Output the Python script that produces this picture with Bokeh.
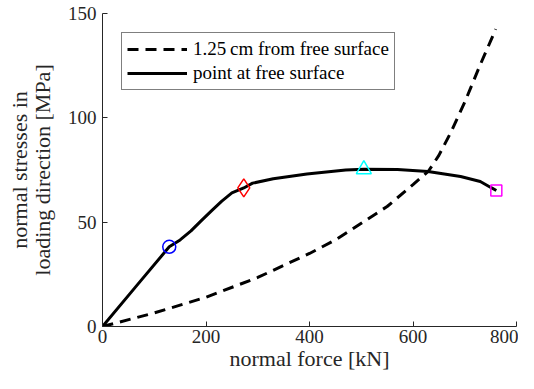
from bokeh.plotting import figure
from bokeh.embed import file_html
from bokeh.resources import INLINE

# data
force_surface = [0, 64, 129, 150, 171, 190, 210, 230, 250, 273, 290, 330, 395, 470, 505, 570, 629, 692, 730, 752, 761]
stress_surface = [0, 19, 38.2, 41.5, 45.8, 50.5, 55.3, 60, 64, 66.4, 68.7, 70.8, 73.1, 75.0, 75.3, 75.2, 74.3, 71.9, 69.5, 66.4, 65.2]

force_depth = [0, 100, 200, 300, 400, 450, 500, 550, 600, 630, 650, 673, 700, 730, 760]
stress_depth = [0, 6.5, 14, 23.5, 35, 41.5, 49.5, 57.5, 68, 74.5, 82, 93, 107.5, 125.5, 142.5]

marker_x = [129, 273, 505, 761]
marker_y = [38.2, 66.4, 75.3, 65.2]

x_ticks = [0, 200, 400, 600, 800]
y_ticks = [0, 50, 100, 150]

label_depth = "1.25\u2009cm from free surface"
label_surface = "point at free surface"

FONT = "Liberation Serif"
AX = "#262626"

p = figure(width=518, height=373, x_range=(0, 800), y_range=(0, 150),
           output_backend="svg", toolbar_location=None,
           min_border_left=102, min_border_right=2, min_border_top=13, min_border_bottom=46)
p.outline_line_color = None
p.grid.visible = False
p.background_fill_color = "white"

p.line(force_depth, stress_depth, line_color="black", line_width=3, line_dash="11 7",
       legend_label=label_depth)
p.line(force_surface, stress_surface, line_color="black", line_width=3,
       legend_label=label_surface)

p.scatter([marker_x[0]], [marker_y[0]], marker="circle", size=13, fill_color=None,
          line_color="#0000FF", line_width=1.5)
p.scatter([marker_x[1]], [marker_y[1]], marker="diamond", size=18, fill_color=None,
          line_color="#FF0000", line_width=1.5)
p.scatter([marker_x[2]], [marker_y[2]], marker="triangle", size=15, fill_color=None,
          line_color="#00FFFF", line_width=1.5)
p.scatter([marker_x[3]], [marker_y[3]], marker="square", size=11, fill_color=None,
          line_color="#FF00FF", line_width=1.5)

for ax in (p.xaxis[0], p.yaxis[0]):
    ax.axis_line_color = AX
    ax.major_tick_line_color = AX
    ax.major_tick_in = 5
    ax.major_tick_out = 0
    ax.minor_tick_line_color = None
    ax.major_label_text_font = FONT
    ax.major_label_text_font_size = "19px"
    ax.major_label_text_color = AX
    ax.axis_label_text_font = FONT
    ax.axis_label_text_font_size = "22px"
    ax.axis_label_text_font_style = "normal"
    ax.axis_label_text_color = AX

p.xaxis.ticker = x_ticks
p.yaxis.ticker = y_ticks
p.xaxis.axis_label = "normal force [kN]"
p.yaxis.axis_label = "normal stresses in\nloading direction [MPa]"
p.yaxis.axis_label_text_line_height = 0.92
p.xaxis.major_label_standoff = 3
p.xaxis.axis_label_standoff = 0
p.yaxis.major_label_standoff = 6
p.yaxis.axis_label_standoff = 10

lg = p.legend[0]
lg.location = "top_left"
lg.margin = 19
lg.padding = 5
lg.spacing = 2
lg.glyph_width = 60
lg.glyph_height = 20
lg.label_height = 20
lg.label_standoff = 6
lg.label_text_font = FONT
lg.label_text_font_size = "19px"
lg.label_text_color = "black"
lg.border_line_color = "black"
lg.border_line_width = 1
lg.background_fill_color = "white"
lg.background_fill_alpha = 1.0

open("out.html", "w").write(file_html(p, INLINE))
